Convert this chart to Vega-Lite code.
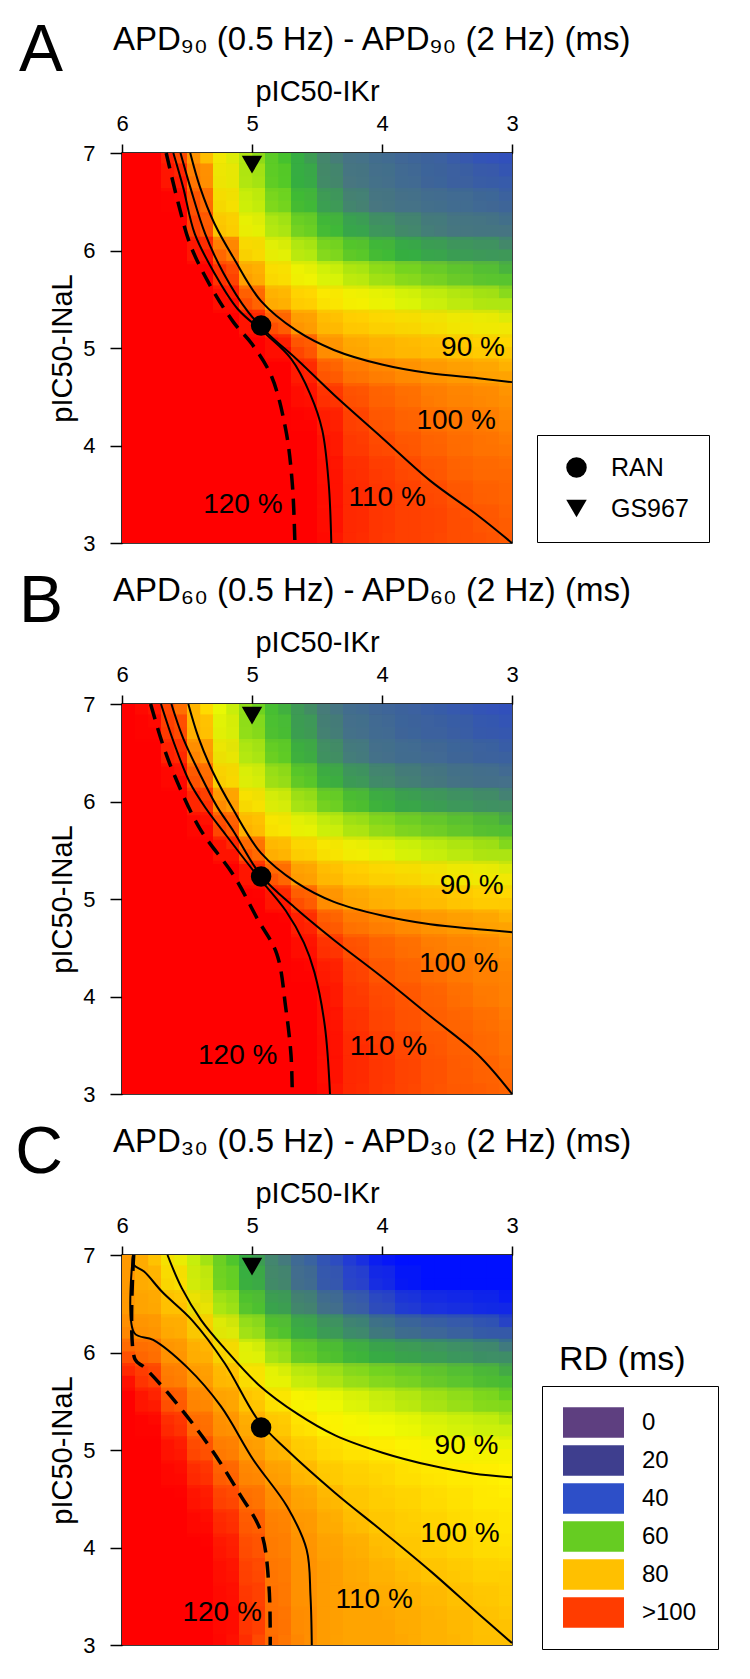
{
"$schema":"https://vega.github.io/schema/vega-lite/v6.json",
"background":"white",
"padding":{"left":15,"top":17,"right":0,"bottom":0},
"config":{
"font":"Liberation Sans",
"view":{"stroke":"black","strokeWidth":1.5},
"axis":{"grid":false,"labelFontSize":22,"titleFontSize":29,"titleFontWeight":"normal","labelColor":"black","titleColor":"black","domainColor":"black","tickColor":"black","domainWidth":1.5,"tickWidth":1.5,"zindex":1,"labelFont":"Liberation Sans","titleFont":"Liberation Sans"},
"title":{"font":"Liberation Sans","fontWeight":"normal","color":"black"},
"legend":{"labelFont":"Liberation Sans","titleFont":"Liberation Sans","labelColor":"black","titleColor":"black","titleFontWeight":"normal"}
},
"datasets":{
"hA":[
{"x":3.1,"y":6.875,"v":42},{"x":3.3,"y":6.875,"v":43},{"x":3.5,"y":6.875,"v":45},{"x":3.7,"y":6.875,"v":46},{"x":3.9,"y":6.875,"v":47},{"x":4.1,"y":6.875,"v":48},{"x":4.3,"y":6.875,"v":49},{"x":4.5,"y":6.875,"v":53},{"x":4.7,"y":6.875,"v":59},{"x":4.9,"y":6.875,"v":66},{"x":5.1,"y":6.875,"v":75},{"x":5.3,"y":6.875,"v":82},{"x":5.5,"y":6.875,"v":91},{"x":5.7,"y":6.875,"v":110},{"x":5.9,"y":6.875,"v":115},
{"x":3.1,"y":6.625,"v":45},{"x":3.3,"y":6.625,"v":46},{"x":3.5,"y":6.625,"v":46},{"x":3.7,"y":6.625,"v":47},{"x":3.9,"y":6.625,"v":48},{"x":4.1,"y":6.625,"v":49},{"x":4.3,"y":6.625,"v":50},{"x":4.5,"y":6.625,"v":55},{"x":4.7,"y":6.625,"v":60},{"x":4.9,"y":6.625,"v":68},{"x":5.1,"y":6.625,"v":76},{"x":5.3,"y":6.625,"v":83},{"x":5.5,"y":6.625,"v":98},{"x":5.7,"y":6.625,"v":110},{"x":5.9,"y":6.625,"v":115},
{"x":3.1,"y":6.375,"v":47},{"x":3.3,"y":6.375,"v":48},{"x":3.5,"y":6.375,"v":48},{"x":3.7,"y":6.375,"v":49},{"x":3.9,"y":6.375,"v":49},{"x":4.1,"y":6.375,"v":50},{"x":4.3,"y":6.375,"v":54},{"x":4.5,"y":6.375,"v":58},{"x":4.7,"y":6.375,"v":64},{"x":4.9,"y":6.375,"v":72},{"x":5.1,"y":6.375,"v":79},{"x":5.3,"y":6.375,"v":85},{"x":5.5,"y":6.375,"v":103},{"x":5.7,"y":6.375,"v":112},{"x":5.9,"y":6.375,"v":115},
{"x":3.1,"y":6.125,"v":50},{"x":3.3,"y":6.125,"v":50},{"x":3.5,"y":6.125,"v":50},{"x":3.7,"y":6.125,"v":52},{"x":3.9,"y":6.125,"v":55},{"x":4.1,"y":6.125,"v":57},{"x":4.3,"y":6.125,"v":59},{"x":4.5,"y":6.125,"v":64},{"x":4.7,"y":6.125,"v":71},{"x":4.9,"y":6.125,"v":77},{"x":5.1,"y":6.125,"v":82},{"x":5.3,"y":6.125,"v":87},{"x":5.5,"y":6.125,"v":108},{"x":5.7,"y":6.125,"v":112},{"x":5.9,"y":6.125,"v":115},
{"x":3.1,"y":5.875,"v":56},{"x":3.3,"y":5.875,"v":57},{"x":3.5,"y":5.875,"v":58},{"x":3.7,"y":5.875,"v":59},{"x":3.9,"y":5.875,"v":60},{"x":4.1,"y":5.875,"v":64},{"x":4.3,"y":5.875,"v":68},{"x":4.5,"y":5.875,"v":73},{"x":4.7,"y":5.875,"v":78},{"x":4.9,"y":5.875,"v":82},{"x":5.1,"y":5.875,"v":86},{"x":5.3,"y":5.875,"v":100},{"x":5.5,"y":5.875,"v":110},{"x":5.7,"y":5.875,"v":113},{"x":5.9,"y":5.875,"v":115},
{"x":3.1,"y":5.625,"v":65},{"x":3.3,"y":5.625,"v":67},{"x":3.5,"y":5.625,"v":69},{"x":3.7,"y":5.625,"v":71},{"x":3.9,"y":5.625,"v":74},{"x":4.1,"y":5.625,"v":76},{"x":4.3,"y":5.625,"v":78},{"x":4.5,"y":5.625,"v":80},{"x":4.7,"y":5.625,"v":82},{"x":4.9,"y":5.625,"v":85},{"x":5.1,"y":5.625,"v":91},{"x":5.3,"y":5.625,"v":108},{"x":5.5,"y":5.625,"v":112},{"x":5.7,"y":5.625,"v":114},{"x":5.9,"y":5.625,"v":115},
{"x":3.1,"y":5.375,"v":75},{"x":3.3,"y":5.375,"v":76},{"x":3.5,"y":5.375,"v":77},{"x":3.7,"y":5.375,"v":78},{"x":3.9,"y":5.375,"v":79},{"x":4.1,"y":5.375,"v":81},{"x":4.3,"y":5.375,"v":82},{"x":4.5,"y":5.375,"v":84},{"x":4.7,"y":5.375,"v":86},{"x":4.9,"y":5.375,"v":89},{"x":5.1,"y":5.375,"v":104},{"x":5.3,"y":5.375,"v":110},{"x":5.5,"y":5.375,"v":113},{"x":5.7,"y":5.375,"v":115},{"x":5.9,"y":5.375,"v":115},
{"x":3.1,"y":5.125,"v":82},{"x":3.3,"y":5.125,"v":82},{"x":3.5,"y":5.125,"v":83},{"x":3.7,"y":5.125,"v":84},{"x":3.9,"y":5.125,"v":85},{"x":4.1,"y":5.125,"v":85},{"x":4.3,"y":5.125,"v":86},{"x":4.5,"y":5.125,"v":87},{"x":4.7,"y":5.125,"v":91},{"x":4.9,"y":5.125,"v":101},{"x":5.1,"y":5.125,"v":109},{"x":5.3,"y":5.125,"v":112},{"x":5.5,"y":5.125,"v":114},{"x":5.7,"y":5.125,"v":115},{"x":5.9,"y":5.125,"v":115},
{"x":3.1,"y":4.875,"v":85},{"x":3.3,"y":4.875,"v":85},{"x":3.5,"y":4.875,"v":86},{"x":3.7,"y":4.875,"v":86},{"x":3.9,"y":4.875,"v":86},{"x":4.1,"y":4.875,"v":87},{"x":4.3,"y":4.875,"v":88},{"x":4.5,"y":4.875,"v":91},{"x":4.7,"y":4.875,"v":100},{"x":4.9,"y":4.875,"v":106},{"x":5.1,"y":4.875,"v":110},{"x":5.3,"y":4.875,"v":113},{"x":5.5,"y":4.875,"v":115},{"x":5.7,"y":4.875,"v":115},{"x":5.9,"y":4.875,"v":115},
{"x":3.1,"y":4.625,"v":88},{"x":3.3,"y":4.625,"v":89},{"x":3.5,"y":4.625,"v":89},{"x":3.7,"y":4.625,"v":90},{"x":3.9,"y":4.625,"v":91},{"x":4.1,"y":4.625,"v":92},{"x":4.3,"y":4.625,"v":93},{"x":4.5,"y":4.625,"v":96},{"x":4.7,"y":4.625,"v":103},{"x":4.9,"y":4.625,"v":108},{"x":5.1,"y":4.625,"v":111},{"x":5.3,"y":4.625,"v":114},{"x":5.5,"y":4.625,"v":115},{"x":5.7,"y":4.625,"v":115},{"x":5.9,"y":4.625,"v":115},
{"x":3.1,"y":4.375,"v":89},{"x":3.3,"y":4.375,"v":90},{"x":3.5,"y":4.375,"v":90},{"x":3.7,"y":4.375,"v":91},{"x":3.9,"y":4.375,"v":92},{"x":4.1,"y":4.375,"v":93},{"x":4.3,"y":4.375,"v":95},{"x":4.5,"y":4.375,"v":98},{"x":4.7,"y":4.375,"v":105},{"x":4.9,"y":4.375,"v":108},{"x":5.1,"y":4.375,"v":111},{"x":5.3,"y":4.375,"v":114},{"x":5.5,"y":4.375,"v":115},{"x":5.7,"y":4.375,"v":115},{"x":5.9,"y":4.375,"v":115},
{"x":3.1,"y":4.125,"v":90},{"x":3.3,"y":4.125,"v":91},{"x":3.5,"y":4.125,"v":91},{"x":3.7,"y":4.125,"v":92},{"x":3.9,"y":4.125,"v":93},{"x":4.1,"y":4.125,"v":94},{"x":4.3,"y":4.125,"v":96},{"x":4.5,"y":4.125,"v":101},{"x":4.7,"y":4.125,"v":106},{"x":4.9,"y":4.125,"v":109},{"x":5.1,"y":4.125,"v":111},{"x":5.3,"y":4.125,"v":113},{"x":5.5,"y":4.125,"v":114},{"x":5.7,"y":4.125,"v":115},{"x":5.9,"y":4.125,"v":115},
{"x":3.1,"y":3.875,"v":91},{"x":3.3,"y":3.875,"v":91},{"x":3.5,"y":3.875,"v":92},{"x":3.7,"y":3.875,"v":93},{"x":3.9,"y":3.875,"v":94},{"x":4.1,"y":3.875,"v":95},{"x":4.3,"y":3.875,"v":96},{"x":4.5,"y":3.875,"v":102},{"x":4.7,"y":3.875,"v":106},{"x":4.9,"y":3.875,"v":109},{"x":5.1,"y":3.875,"v":111},{"x":5.3,"y":3.875,"v":113},{"x":5.5,"y":3.875,"v":114},{"x":5.7,"y":3.875,"v":115},{"x":5.9,"y":3.875,"v":115},
{"x":3.1,"y":3.625,"v":92},{"x":3.3,"y":3.625,"v":92},{"x":3.5,"y":3.625,"v":93},{"x":3.7,"y":3.625,"v":94},{"x":3.9,"y":3.625,"v":95},{"x":4.1,"y":3.625,"v":96},{"x":4.3,"y":3.625,"v":97},{"x":4.5,"y":3.625,"v":102},{"x":4.7,"y":3.625,"v":107},{"x":4.9,"y":3.625,"v":110},{"x":5.1,"y":3.625,"v":111},{"x":5.3,"y":3.625,"v":113},{"x":5.5,"y":3.625,"v":114},{"x":5.7,"y":3.625,"v":115},{"x":5.9,"y":3.625,"v":115},
{"x":3.1,"y":3.375,"v":92},{"x":3.3,"y":3.375,"v":93},{"x":3.5,"y":3.375,"v":94},{"x":3.7,"y":3.375,"v":95},{"x":3.9,"y":3.375,"v":95},{"x":4.1,"y":3.375,"v":96},{"x":4.3,"y":3.375,"v":97},{"x":4.5,"y":3.375,"v":102},{"x":4.7,"y":3.375,"v":107},{"x":4.9,"y":3.375,"v":110},{"x":5.1,"y":3.375,"v":111},{"x":5.3,"y":3.375,"v":113},{"x":5.5,"y":3.375,"v":114},{"x":5.7,"y":3.375,"v":115},{"x":5.9,"y":3.375,"v":115},
{"x":3.1,"y":3.125,"v":93},{"x":3.3,"y":3.125,"v":94},{"x":3.5,"y":3.125,"v":94},{"x":3.7,"y":3.125,"v":95},{"x":3.9,"y":3.125,"v":95},{"x":4.1,"y":3.125,"v":96},{"x":4.3,"y":3.125,"v":97},{"x":4.5,"y":3.125,"v":103},{"x":4.7,"y":3.125,"v":108},{"x":4.9,"y":3.125,"v":110},{"x":5.1,"y":3.125,"v":111},{"x":5.3,"y":3.125,"v":113},{"x":5.5,"y":3.125,"v":114},{"x":5.7,"y":3.125,"v":115},{"x":5.9,"y":3.125,"v":115}
],
"hB":[
{"x":3.1,"y":6.875,"v":42},{"x":3.3,"y":6.875,"v":43},{"x":3.5,"y":6.875,"v":44},{"x":3.7,"y":6.875,"v":45},{"x":3.9,"y":6.875,"v":46},{"x":4.1,"y":6.875,"v":47},{"x":4.3,"y":6.875,"v":48},{"x":4.5,"y":6.875,"v":51},{"x":4.7,"y":6.875,"v":56},{"x":4.9,"y":6.875,"v":63},{"x":5.1,"y":6.875,"v":72},{"x":5.3,"y":6.875,"v":80},{"x":5.5,"y":6.875,"v":88},{"x":5.7,"y":6.875,"v":97},{"x":5.9,"y":6.875,"v":112},
{"x":3.1,"y":6.625,"v":44},{"x":3.3,"y":6.625,"v":45},{"x":3.5,"y":6.625,"v":46},{"x":3.7,"y":6.625,"v":46},{"x":3.9,"y":6.625,"v":47},{"x":4.1,"y":6.625,"v":48},{"x":4.3,"y":6.625,"v":49},{"x":4.5,"y":6.625,"v":53},{"x":4.7,"y":6.625,"v":58},{"x":4.9,"y":6.625,"v":65},{"x":5.1,"y":6.625,"v":73},{"x":5.3,"y":6.625,"v":81},{"x":5.5,"y":6.625,"v":90},{"x":5.7,"y":6.625,"v":100},{"x":5.9,"y":6.625,"v":112},
{"x":3.1,"y":6.375,"v":46},{"x":3.3,"y":6.375,"v":47},{"x":3.5,"y":6.375,"v":47},{"x":3.7,"y":6.375,"v":48},{"x":3.9,"y":6.375,"v":48},{"x":4.1,"y":6.375,"v":49},{"x":4.3,"y":6.375,"v":52},{"x":4.5,"y":6.375,"v":56},{"x":4.7,"y":6.375,"v":62},{"x":4.9,"y":6.375,"v":70},{"x":5.1,"y":6.375,"v":77},{"x":5.3,"y":6.375,"v":84},{"x":5.5,"y":6.375,"v":95},{"x":5.7,"y":6.375,"v":106},{"x":5.9,"y":6.375,"v":114},
{"x":3.1,"y":6.125,"v":49},{"x":3.3,"y":6.125,"v":49},{"x":3.5,"y":6.125,"v":50},{"x":3.7,"y":6.125,"v":51},{"x":3.9,"y":6.125,"v":53},{"x":4.1,"y":6.125,"v":55},{"x":4.3,"y":6.125,"v":58},{"x":4.5,"y":6.125,"v":62},{"x":4.7,"y":6.125,"v":69},{"x":4.9,"y":6.125,"v":75},{"x":5.1,"y":6.125,"v":81},{"x":5.3,"y":6.125,"v":86},{"x":5.5,"y":6.125,"v":100},{"x":5.7,"y":6.125,"v":110},{"x":5.9,"y":6.125,"v":115},
{"x":3.1,"y":5.875,"v":55},{"x":3.3,"y":5.875,"v":56},{"x":3.5,"y":5.875,"v":57},{"x":3.7,"y":5.875,"v":58},{"x":3.9,"y":5.875,"v":59},{"x":4.1,"y":5.875,"v":62},{"x":4.3,"y":5.875,"v":66},{"x":4.5,"y":5.875,"v":71},{"x":4.7,"y":5.875,"v":76},{"x":4.9,"y":5.875,"v":81},{"x":5.1,"y":5.875,"v":85},{"x":5.3,"y":5.875,"v":95},{"x":5.5,"y":5.875,"v":108},{"x":5.7,"y":5.875,"v":113},{"x":5.9,"y":5.875,"v":115},
{"x":3.1,"y":5.625,"v":64},{"x":3.3,"y":5.625,"v":66},{"x":3.5,"y":5.625,"v":68},{"x":3.7,"y":5.625,"v":70},{"x":3.9,"y":5.625,"v":72},{"x":4.1,"y":5.625,"v":75},{"x":4.3,"y":5.625,"v":77},{"x":4.5,"y":5.625,"v":79},{"x":4.7,"y":5.625,"v":81},{"x":4.9,"y":5.625,"v":84},{"x":5.1,"y":5.625,"v":89},{"x":5.3,"y":5.625,"v":104},{"x":5.5,"y":5.625,"v":111},{"x":5.7,"y":5.625,"v":114},{"x":5.9,"y":5.625,"v":115},
{"x":3.1,"y":5.375,"v":75},{"x":3.3,"y":5.375,"v":76},{"x":3.5,"y":5.375,"v":77},{"x":3.7,"y":5.375,"v":78},{"x":3.9,"y":5.375,"v":79},{"x":4.1,"y":5.375,"v":81},{"x":4.3,"y":5.375,"v":82},{"x":4.5,"y":5.375,"v":84},{"x":4.7,"y":5.375,"v":86},{"x":4.9,"y":5.375,"v":89},{"x":5.1,"y":5.375,"v":100},{"x":5.3,"y":5.375,"v":110},{"x":5.5,"y":5.375,"v":113},{"x":5.7,"y":5.375,"v":115},{"x":5.9,"y":5.375,"v":115},
{"x":3.1,"y":5.125,"v":82},{"x":3.3,"y":5.125,"v":82},{"x":3.5,"y":5.125,"v":83},{"x":3.7,"y":5.125,"v":84},{"x":3.9,"y":5.125,"v":85},{"x":4.1,"y":5.125,"v":85},{"x":4.3,"y":5.125,"v":86},{"x":4.5,"y":5.125,"v":87},{"x":4.7,"y":5.125,"v":90},{"x":4.9,"y":5.125,"v":99},{"x":5.1,"y":5.125,"v":108},{"x":5.3,"y":5.125,"v":112},{"x":5.5,"y":5.125,"v":114},{"x":5.7,"y":5.125,"v":115},{"x":5.9,"y":5.125,"v":115},
{"x":3.1,"y":4.875,"v":85},{"x":3.3,"y":4.875,"v":85},{"x":3.5,"y":4.875,"v":86},{"x":3.7,"y":4.875,"v":86},{"x":3.9,"y":4.875,"v":86},{"x":4.1,"y":4.875,"v":87},{"x":4.3,"y":4.875,"v":88},{"x":4.5,"y":4.875,"v":91},{"x":4.7,"y":4.875,"v":99},{"x":4.9,"y":4.875,"v":106},{"x":5.1,"y":4.875,"v":110},{"x":5.3,"y":4.875,"v":113},{"x":5.5,"y":4.875,"v":115},{"x":5.7,"y":4.875,"v":115},{"x":5.9,"y":4.875,"v":115},
{"x":3.1,"y":4.625,"v":88},{"x":3.3,"y":4.625,"v":89},{"x":3.5,"y":4.625,"v":89},{"x":3.7,"y":4.625,"v":90},{"x":3.9,"y":4.625,"v":91},{"x":4.1,"y":4.625,"v":92},{"x":4.3,"y":4.625,"v":93},{"x":4.5,"y":4.625,"v":96},{"x":4.7,"y":4.625,"v":102},{"x":4.9,"y":4.625,"v":108},{"x":5.1,"y":4.625,"v":111},{"x":5.3,"y":4.625,"v":114},{"x":5.5,"y":4.625,"v":115},{"x":5.7,"y":4.625,"v":115},{"x":5.9,"y":4.625,"v":115},
{"x":3.1,"y":4.375,"v":89},{"x":3.3,"y":4.375,"v":90},{"x":3.5,"y":4.375,"v":90},{"x":3.7,"y":4.375,"v":91},{"x":3.9,"y":4.375,"v":92},{"x":4.1,"y":4.375,"v":93},{"x":4.3,"y":4.375,"v":95},{"x":4.5,"y":4.375,"v":98},{"x":4.7,"y":4.375,"v":104},{"x":4.9,"y":4.375,"v":108},{"x":5.1,"y":4.375,"v":111},{"x":5.3,"y":4.375,"v":114},{"x":5.5,"y":4.375,"v":115},{"x":5.7,"y":4.375,"v":115},{"x":5.9,"y":4.375,"v":115},
{"x":3.1,"y":4.125,"v":90},{"x":3.3,"y":4.125,"v":90},{"x":3.5,"y":4.125,"v":91},{"x":3.7,"y":4.125,"v":92},{"x":3.9,"y":4.125,"v":93},{"x":4.1,"y":4.125,"v":94},{"x":4.3,"y":4.125,"v":96},{"x":4.5,"y":4.125,"v":101},{"x":4.7,"y":4.125,"v":106},{"x":4.9,"y":4.125,"v":109},{"x":5.1,"y":4.125,"v":111},{"x":5.3,"y":4.125,"v":113},{"x":5.5,"y":4.125,"v":114},{"x":5.7,"y":4.125,"v":115},{"x":5.9,"y":4.125,"v":115},
{"x":3.1,"y":3.875,"v":90},{"x":3.3,"y":3.875,"v":91},{"x":3.5,"y":3.875,"v":92},{"x":3.7,"y":3.875,"v":93},{"x":3.9,"y":3.875,"v":94},{"x":4.1,"y":3.875,"v":95},{"x":4.3,"y":3.875,"v":96},{"x":4.5,"y":3.875,"v":102},{"x":4.7,"y":3.875,"v":106},{"x":4.9,"y":3.875,"v":109},{"x":5.1,"y":3.875,"v":111},{"x":5.3,"y":3.875,"v":113},{"x":5.5,"y":3.875,"v":114},{"x":5.7,"y":3.875,"v":115},{"x":5.9,"y":3.875,"v":115},
{"x":3.1,"y":3.625,"v":91},{"x":3.3,"y":3.625,"v":92},{"x":3.5,"y":3.625,"v":92},{"x":3.7,"y":3.625,"v":93},{"x":3.9,"y":3.625,"v":94},{"x":4.1,"y":3.625,"v":95},{"x":4.3,"y":3.625,"v":97},{"x":4.5,"y":3.625,"v":102},{"x":4.7,"y":3.625,"v":107},{"x":4.9,"y":3.625,"v":110},{"x":5.1,"y":3.625,"v":111},{"x":5.3,"y":3.625,"v":113},{"x":5.5,"y":3.625,"v":114},{"x":5.7,"y":3.625,"v":115},{"x":5.9,"y":3.625,"v":115},
{"x":3.1,"y":3.375,"v":91},{"x":3.3,"y":3.375,"v":92},{"x":3.5,"y":3.375,"v":93},{"x":3.7,"y":3.375,"v":94},{"x":3.9,"y":3.375,"v":95},{"x":4.1,"y":3.375,"v":96},{"x":4.3,"y":3.375,"v":97},{"x":4.5,"y":3.375,"v":102},{"x":4.7,"y":3.375,"v":107},{"x":4.9,"y":3.375,"v":110},{"x":5.1,"y":3.375,"v":111},{"x":5.3,"y":3.375,"v":113},{"x":5.5,"y":3.375,"v":114},{"x":5.7,"y":3.375,"v":115},{"x":5.9,"y":3.375,"v":115},
{"x":3.1,"y":3.125,"v":92},{"x":3.3,"y":3.125,"v":93},{"x":3.5,"y":3.125,"v":93},{"x":3.7,"y":3.125,"v":94},{"x":3.9,"y":3.125,"v":95},{"x":4.1,"y":3.125,"v":96},{"x":4.3,"y":3.125,"v":97},{"x":4.5,"y":3.125,"v":103},{"x":4.7,"y":3.125,"v":108},{"x":4.9,"y":3.125,"v":110},{"x":5.1,"y":3.125,"v":111},{"x":5.3,"y":3.125,"v":113},{"x":5.5,"y":3.125,"v":114},{"x":5.7,"y":3.125,"v":115},{"x":5.9,"y":3.125,"v":115}
],
"hC":[
{"x":3.1,"y":6.875,"v":30},{"x":3.3,"y":6.875,"v":30},{"x":3.5,"y":6.875,"v":30},{"x":3.7,"y":6.875,"v":30},{"x":3.9,"y":6.875,"v":30},{"x":4.1,"y":6.875,"v":34},{"x":4.3,"y":6.875,"v":40},{"x":4.5,"y":6.875,"v":44},{"x":4.7,"y":6.875,"v":48},{"x":4.9,"y":6.875,"v":53},{"x":5.1,"y":6.875,"v":59},{"x":5.3,"y":6.875,"v":68},{"x":5.5,"y":6.875,"v":77},{"x":5.7,"y":6.875,"v":83},{"x":5.9,"y":6.875,"v":88},
{"x":3.1,"y":6.625,"v":30},{"x":3.3,"y":6.625,"v":30},{"x":3.5,"y":6.625,"v":30},{"x":3.7,"y":6.625,"v":30},{"x":3.9,"y":6.625,"v":34},{"x":4.1,"y":6.625,"v":39},{"x":4.3,"y":6.625,"v":43},{"x":4.5,"y":6.625,"v":46},{"x":4.7,"y":6.625,"v":50},{"x":4.9,"y":6.625,"v":55},{"x":5.1,"y":6.625,"v":61},{"x":5.3,"y":6.625,"v":71},{"x":5.5,"y":6.625,"v":81},{"x":5.7,"y":6.625,"v":85},{"x":5.9,"y":6.625,"v":88},
{"x":3.1,"y":6.375,"v":36},{"x":3.3,"y":6.375,"v":38},{"x":3.5,"y":6.375,"v":39},{"x":3.7,"y":6.375,"v":40},{"x":3.9,"y":6.375,"v":42},{"x":4.1,"y":6.375,"v":45},{"x":4.3,"y":6.375,"v":48},{"x":4.5,"y":6.375,"v":51},{"x":4.7,"y":6.375,"v":55},{"x":4.9,"y":6.375,"v":59},{"x":5.1,"y":6.375,"v":68},{"x":5.3,"y":6.375,"v":78},{"x":5.5,"y":6.375,"v":85},{"x":5.7,"y":6.375,"v":86},{"x":5.9,"y":6.375,"v":88},
{"x":3.1,"y":6.125,"v":47},{"x":3.3,"y":6.125,"v":48},{"x":3.5,"y":6.125,"v":49},{"x":3.7,"y":6.125,"v":50},{"x":3.9,"y":6.125,"v":51},{"x":4.1,"y":6.125,"v":53},{"x":4.3,"y":6.125,"v":56},{"x":4.5,"y":6.125,"v":58},{"x":4.7,"y":6.125,"v":61},{"x":4.9,"y":6.125,"v":69},{"x":5.1,"y":6.125,"v":77},{"x":5.3,"y":6.125,"v":83},{"x":5.5,"y":6.125,"v":86},{"x":5.7,"y":6.125,"v":88},{"x":5.9,"y":6.125,"v":90},
{"x":3.1,"y":5.875,"v":55},{"x":3.3,"y":5.875,"v":56},{"x":3.5,"y":5.875,"v":57},{"x":3.7,"y":5.875,"v":58},{"x":3.9,"y":5.875,"v":59},{"x":4.1,"y":5.875,"v":60},{"x":4.3,"y":5.875,"v":63},{"x":4.5,"y":5.875,"v":66},{"x":4.7,"y":5.875,"v":69},{"x":4.9,"y":5.875,"v":78},{"x":5.1,"y":5.875,"v":81},{"x":5.3,"y":5.875,"v":86},{"x":5.5,"y":5.875,"v":88},{"x":5.7,"y":5.875,"v":90},{"x":5.9,"y":5.875,"v":95},
{"x":3.1,"y":5.625,"v":63},{"x":3.3,"y":5.625,"v":65},{"x":3.5,"y":5.625,"v":67},{"x":3.7,"y":5.625,"v":69},{"x":3.9,"y":5.625,"v":71},{"x":4.1,"y":5.625,"v":73},{"x":4.3,"y":5.625,"v":75},{"x":4.5,"y":5.625,"v":77},{"x":4.7,"y":5.625,"v":79},{"x":4.9,"y":5.625,"v":81},{"x":5.1,"y":5.625,"v":85},{"x":5.3,"y":5.625,"v":87},{"x":5.5,"y":5.625,"v":89},{"x":5.7,"y":5.625,"v":92},{"x":5.9,"y":5.625,"v":100},
{"x":3.1,"y":5.375,"v":70},{"x":3.3,"y":5.375,"v":71},{"x":3.5,"y":5.375,"v":73},{"x":3.7,"y":5.375,"v":74},{"x":3.9,"y":5.375,"v":76},{"x":4.1,"y":5.375,"v":77},{"x":4.3,"y":5.375,"v":79},{"x":4.5,"y":5.375,"v":80},{"x":4.7,"y":5.375,"v":82},{"x":4.9,"y":5.375,"v":84},{"x":5.1,"y":5.375,"v":86},{"x":5.3,"y":5.375,"v":89},{"x":5.5,"y":5.375,"v":91},{"x":5.7,"y":5.375,"v":97},{"x":5.9,"y":5.375,"v":102},
{"x":3.1,"y":5.125,"v":77},{"x":3.3,"y":5.125,"v":78},{"x":3.5,"y":5.125,"v":78},{"x":3.7,"y":5.125,"v":79},{"x":3.9,"y":5.125,"v":80},{"x":4.1,"y":5.125,"v":80},{"x":4.3,"y":5.125,"v":81},{"x":4.5,"y":5.125,"v":82},{"x":4.7,"y":5.125,"v":84},{"x":4.9,"y":5.125,"v":86},{"x":5.1,"y":5.125,"v":88},{"x":5.3,"y":5.125,"v":90},{"x":5.5,"y":5.125,"v":94},{"x":5.7,"y":5.125,"v":100},{"x":5.9,"y":5.125,"v":105},
{"x":3.1,"y":4.875,"v":81},{"x":3.3,"y":4.875,"v":81},{"x":3.5,"y":4.875,"v":81},{"x":3.7,"y":4.875,"v":81},{"x":3.9,"y":4.875,"v":82},{"x":4.1,"y":4.875,"v":83},{"x":4.3,"y":4.875,"v":83},{"x":4.5,"y":4.875,"v":84},{"x":4.7,"y":4.875,"v":85},{"x":4.9,"y":4.875,"v":87},{"x":5.1,"y":4.875,"v":89},{"x":5.3,"y":4.875,"v":92},{"x":5.5,"y":4.875,"v":97},{"x":5.7,"y":4.875,"v":102},{"x":5.9,"y":4.875,"v":106},
{"x":3.1,"y":4.625,"v":81},{"x":3.3,"y":4.625,"v":82},{"x":3.5,"y":4.625,"v":82},{"x":3.7,"y":4.625,"v":83},{"x":3.9,"y":4.625,"v":83},{"x":4.1,"y":4.625,"v":84},{"x":4.3,"y":4.625,"v":84},{"x":4.5,"y":4.625,"v":85},{"x":4.7,"y":4.625,"v":87},{"x":4.9,"y":4.625,"v":89},{"x":5.1,"y":4.625,"v":91},{"x":5.3,"y":4.625,"v":95},{"x":5.5,"y":4.625,"v":99},{"x":5.7,"y":4.625,"v":103},{"x":5.9,"y":4.625,"v":107},
{"x":3.1,"y":4.375,"v":82},{"x":3.3,"y":4.375,"v":82},{"x":3.5,"y":4.375,"v":83},{"x":3.7,"y":4.375,"v":83},{"x":3.9,"y":4.375,"v":84},{"x":4.1,"y":4.375,"v":84},{"x":4.3,"y":4.375,"v":85},{"x":4.5,"y":4.375,"v":87},{"x":4.7,"y":4.375,"v":88},{"x":4.9,"y":4.375,"v":90},{"x":5.1,"y":4.375,"v":93},{"x":5.3,"y":4.375,"v":97},{"x":5.5,"y":4.375,"v":101},{"x":5.7,"y":4.375,"v":104},{"x":5.9,"y":4.375,"v":108},
{"x":3.1,"y":4.125,"v":82},{"x":3.3,"y":4.125,"v":83},{"x":3.5,"y":4.125,"v":83},{"x":3.7,"y":4.125,"v":84},{"x":3.9,"y":4.125,"v":84},{"x":4.1,"y":4.125,"v":85},{"x":4.3,"y":4.125,"v":86},{"x":4.5,"y":4.125,"v":87},{"x":4.7,"y":4.125,"v":89},{"x":4.9,"y":4.125,"v":91},{"x":5.1,"y":4.125,"v":95},{"x":5.3,"y":4.125,"v":99},{"x":5.5,"y":4.125,"v":103},{"x":5.7,"y":4.125,"v":106},{"x":5.9,"y":4.125,"v":110},
{"x":3.1,"y":3.875,"v":83},{"x":3.3,"y":3.875,"v":83},{"x":3.5,"y":3.875,"v":84},{"x":3.7,"y":3.875,"v":84},{"x":3.9,"y":3.875,"v":85},{"x":4.1,"y":3.875,"v":86},{"x":4.3,"y":3.875,"v":87},{"x":4.5,"y":3.875,"v":88},{"x":4.7,"y":3.875,"v":89},{"x":4.9,"y":3.875,"v":91},{"x":5.1,"y":3.875,"v":96},{"x":5.3,"y":3.875,"v":100},{"x":5.5,"y":3.875,"v":104},{"x":5.7,"y":3.875,"v":107},{"x":5.9,"y":3.875,"v":110},
{"x":3.1,"y":3.625,"v":84},{"x":3.3,"y":3.625,"v":84},{"x":3.5,"y":3.625,"v":85},{"x":3.7,"y":3.625,"v":85},{"x":3.9,"y":3.625,"v":86},{"x":4.1,"y":3.625,"v":86},{"x":4.3,"y":3.625,"v":87},{"x":4.5,"y":3.625,"v":88},{"x":4.7,"y":3.625,"v":89},{"x":4.9,"y":3.625,"v":92},{"x":5.1,"y":3.625,"v":97},{"x":5.3,"y":3.625,"v":101},{"x":5.5,"y":3.625,"v":105},{"x":5.7,"y":3.625,"v":108},{"x":5.9,"y":3.625,"v":110},
{"x":3.1,"y":3.375,"v":84},{"x":3.3,"y":3.375,"v":85},{"x":3.5,"y":3.375,"v":85},{"x":3.7,"y":3.375,"v":86},{"x":3.9,"y":3.375,"v":86},{"x":4.1,"y":3.375,"v":87},{"x":4.3,"y":3.375,"v":87},{"x":4.5,"y":3.375,"v":88},{"x":4.7,"y":3.375,"v":89},{"x":4.9,"y":3.375,"v":92},{"x":5.1,"y":3.375,"v":98},{"x":5.3,"y":3.375,"v":102},{"x":5.5,"y":3.375,"v":105},{"x":5.7,"y":3.375,"v":108},{"x":5.9,"y":3.375,"v":110},
{"x":3.1,"y":3.125,"v":85},{"x":3.3,"y":3.125,"v":85},{"x":3.5,"y":3.125,"v":86},{"x":3.7,"y":3.125,"v":86},{"x":3.9,"y":3.125,"v":87},{"x":4.1,"y":3.125,"v":87},{"x":4.3,"y":3.125,"v":87},{"x":4.5,"y":3.125,"v":88},{"x":4.7,"y":3.125,"v":90},{"x":4.9,"y":3.125,"v":92},{"x":5.1,"y":3.125,"v":98},{"x":5.3,"y":3.125,"v":103},{"x":5.5,"y":3.125,"v":106},{"x":5.7,"y":3.125,"v":108},{"x":5.9,"y":3.125,"v":110}
],
"lA":[
{"c":"90","i":0,"x":5.475,"y":7},{"c":"90","i":1,"x":5.4,"y":6.65},{"c":"90","i":2,"x":5.29,"y":6.28},{"c":"90","i":3,"x":5.14,"y":5.92},{"c":"90","i":4,"x":4.93,"y":5.48},{"c":"90","i":5,"x":4.66,"y":5.18},{"c":"90","i":6,"x":4.37,"y":4.98},{"c":"90","i":7,"x":4.0,"y":4.83},{"c":"90","i":8,"x":3.63,"y":4.74},{"c":"90","i":9,"x":3.26,"y":4.69},{"c":"90","i":10,"x":3.0,"y":4.65},
{"c":"100","i":0,"x":5.55,"y":7},{"c":"100","i":1,"x":5.475,"y":6.65},{"c":"100","i":2,"x":5.36,"y":6.17},{"c":"100","i":3,"x":5.22,"y":5.77},{"c":"100","i":4,"x":5.03,"y":5.37},{"c":"100","i":5,"x":4.88,"y":5.15},{"c":"100","i":6,"x":4.66,"y":4.89},{"c":"100","i":7,"x":4.37,"y":4.52},{"c":"100","i":8,"x":4.0,"y":4.08},{"c":"100","i":9,"x":3.63,"y":3.64},{"c":"100","i":10,"x":3.26,"y":3.28},{"c":"100","i":11,"x":3.0,"y":3.0},
{"c":"110","i":0,"x":5.605,"y":7},{"c":"110","i":1,"x":5.53,"y":6.65},{"c":"110","i":2,"x":5.44,"y":6.17},{"c":"110","i":3,"x":5.29,"y":5.77},{"c":"110","i":4,"x":5.11,"y":5.4},{"c":"110","i":5,"x":4.9,"y":5.15},{"c":"110","i":6,"x":4.7,"y":4.89},{"c":"110","i":7,"x":4.55,"y":4.52},{"c":"110","i":8,"x":4.46,"y":4.16},{"c":"110","i":9,"x":4.41,"y":3.61},{"c":"110","i":10,"x":4.39,"y":3.0},
{"c":"120","i":0,"x":5.66,"y":7},{"c":"120","i":1,"x":5.57,"y":6.5},{"c":"120","i":2,"x":5.475,"y":6.06},{"c":"120","i":3,"x":5.33,"y":5.66},{"c":"120","i":4,"x":5.14,"y":5.26},{"c":"120","i":5,"x":5.0,"y":5.04},{"c":"120","i":6,"x":4.85,"y":4.71},{"c":"120","i":7,"x":4.74,"y":4.16},{"c":"120","i":8,"x":4.69,"y":3.61},{"c":"120","i":9,"x":4.67,"y":3.0}
],
"lB":[
{"c":"90","i":0,"x":5.49,"y":7},{"c":"90","i":1,"x":5.41,"y":6.65},{"c":"90","i":2,"x":5.3,"y":6.3},{"c":"90","i":3,"x":5.15,"y":5.93},{"c":"90","i":4,"x":4.93,"y":5.47},{"c":"90","i":5,"x":4.66,"y":5.17},{"c":"90","i":6,"x":4.37,"y":4.97},{"c":"90","i":7,"x":4.0,"y":4.83},{"c":"90","i":8,"x":3.63,"y":4.74},{"c":"90","i":9,"x":3.26,"y":4.69},{"c":"90","i":10,"x":3.0,"y":4.66},
{"c":"100","i":0,"x":5.62,"y":7},{"c":"100","i":1,"x":5.53,"y":6.65},{"c":"100","i":2,"x":5.4,"y":6.28},{"c":"100","i":3,"x":5.27,"y":5.95},{"c":"100","i":4,"x":5.14,"y":5.69},{"c":"100","i":5,"x":4.93,"y":5.24},{"c":"100","i":6,"x":4.66,"y":4.9},{"c":"100","i":7,"x":4.37,"y":4.58},{"c":"100","i":8,"x":4.0,"y":4.2},{"c":"100","i":9,"x":3.63,"y":3.8},{"c":"100","i":10,"x":3.26,"y":3.4},{"c":"100","i":11,"x":3.0,"y":3.0},
{"c":"110","i":0,"x":5.7,"y":7},{"c":"110","i":1,"x":5.6,"y":6.6},{"c":"110","i":2,"x":5.48,"y":6.2},{"c":"110","i":3,"x":5.35,"y":5.92},{"c":"110","i":4,"x":5.22,"y":5.69},{"c":"110","i":5,"x":4.96,"y":5.24},{"c":"110","i":6,"x":4.74,"y":4.88},{"c":"110","i":7,"x":4.6,"y":4.55},{"c":"110","i":8,"x":4.52,"y":4.25},{"c":"110","i":9,"x":4.44,"y":3.7},{"c":"110","i":10,"x":4.4,"y":3.0},
{"c":"120","i":0,"x":5.78,"y":7},{"c":"120","i":1,"x":5.69,"y":6.6},{"c":"120","i":2,"x":5.6,"y":6.28},{"c":"120","i":3,"x":5.4,"y":5.72},{"c":"120","i":4,"x":5.14,"y":5.24},{"c":"120","i":5,"x":4.96,"y":4.8},{"c":"120","i":6,"x":4.81,"y":4.44},{"c":"120","i":7,"x":4.74,"y":3.88},{"c":"120","i":8,"x":4.7,"y":3.4},{"c":"120","i":9,"x":4.69,"y":3.0}
],
"lC":[
{"c":"90","i":0,"x":5.65,"y":7},{"c":"90","i":1,"x":5.54,"y":6.66},{"c":"90","i":2,"x":5.39,"y":6.33},{"c":"90","i":3,"x":5.21,"y":6.04},{"c":"90","i":4,"x":4.95,"y":5.67},{"c":"90","i":5,"x":4.65,"y":5.37},{"c":"90","i":6,"x":4.36,"y":5.15},{"c":"90","i":7,"x":3.99,"y":4.97},{"c":"90","i":8,"x":3.62,"y":4.84},{"c":"90","i":9,"x":3.3,"y":4.76},{"c":"90","i":10,"x":3.0,"y":4.72},
{"c":"100","i":0,"x":5.915,"y":7},{"c":"100","i":1,"x":5.91,"y":6.9},{"c":"100","i":2,"x":5.83,"y":6.83},{"c":"100","i":3,"x":5.69,"y":6.62},{"c":"100","i":4,"x":5.46,"y":6.33},{"c":"100","i":5,"x":5.21,"y":5.89},{"c":"100","i":6,"x":4.95,"y":5.3},{"c":"100","i":7,"x":4.73,"y":5.0},{"c":"100","i":8,"x":4.36,"y":4.56},{"c":"100","i":9,"x":3.99,"y":4.16},{"c":"100","i":10,"x":3.62,"y":3.75},{"c":"100","i":11,"x":3.25,"y":3.31},{"c":"100","i":12,"x":3.0,"y":3.02},
{"c":"110","i":0,"x":5.915,"y":7},{"c":"110","i":1,"x":5.905,"y":6.2},{"c":"110","i":2,"x":5.76,"y":6.13},{"c":"110","i":3,"x":5.5,"y":5.85},{"c":"110","i":4,"x":5.24,"y":5.45},{"c":"110","i":5,"x":4.99,"y":4.9},{"c":"110","i":6,"x":4.73,"y":4.42},{"c":"110","i":7,"x":4.58,"y":3.98},{"c":"110","i":8,"x":4.55,"y":3.5},{"c":"110","i":9,"x":4.54,"y":3.0},
{"c":"120","i":0,"x":5.91,"y":7},{"c":"120","i":1,"x":5.9,"y":5.93},{"c":"120","i":2,"x":5.83,"y":5.85},{"c":"120","i":3,"x":5.65,"y":5.59},{"c":"120","i":4,"x":5.35,"y":5.08},{"c":"120","i":5,"x":5.1,"y":4.56},{"c":"120","i":6,"x":4.93,"y":4.16},{"c":"120","i":7,"x":4.87,"y":3.61},{"c":"120","i":8,"x":4.86,"y":3.0}
],
"tA":[{"t":"90 %","x":3.3,"y":5.0},{"t":"100 %","x":3.43,"y":4.25},{"t":"110 %","x":3.96,"y":3.46},{"t":"120 %","x":5.07,"y":3.39}],
"tB":[{"t":"90 %","x":3.31,"y":5.13},{"t":"100 %","x":3.41,"y":4.33},{"t":"110 %","x":3.95,"y":3.48},{"t":"120 %","x":5.11,"y":3.39}],
"tC":[{"t":"90 %","x":3.35,"y":5.04},{"t":"100 %","x":3.4,"y":4.14},{"t":"110 %","x":4.06,"y":3.46},{"t":"120 %","x":5.23,"y":3.33}],
"mk":[{"m":"RAN","x":4.93,"y":5.23},{"m":"GS967","x":5.0,"y":6.88}],
"rd":[{"rd":"0"},{"rd":"20"},{"rd":"40"},{"rd":"60"},{"rd":"80"},{"rd":">100"}]
},
"spacing":13,
"resolve":{"scale":{"color":"independent","fill":"independent","shape":"independent"}},
"vconcat":[
{
"title":{"text":"A","orient":"left","anchor":"end","angle":0,"align":"left","baseline":"top","fontSize":66,"offset":-15,"dy":-4,"frame":"bounds"},
"resolve":{"scale":{"color":"independent","fill":"independent","shape":"independent"}},
"vconcat":[{
"width":390,"height":390,
"title":{"text":"APD₉₀ (0.5 Hz) - APD₉₀ (2 Hz) (ms)","anchor":"start","frame":"group","dx":-9,"offset":20.5,"fontSize":33},
"encoding":{
"x":{"field":"x","type":"quantitative","scale":{"domain":[3,6],"reverse":true,"nice":false,"zero":false},"axis":{"orient":"top","values":[3,4,5,6],"format":"d","title":"pIC50-IKr","tickSize":9,"labelPadding":8.5,"titlePadding":6.5,"labelFlush":false}},
"y":{"field":"y","type":"quantitative","scale":{"domain":[3,7],"nice":false,"zero":false},"axis":{"values":[3,4,5,6,7],"format":"d","title":"pIC50-INaL","tickSize":12,"labelPadding":15,"titlePadding":5}}
},
"layer":[
{"data":{"name":"hA"},"mark":{"type":"square","size":702,"opacity":1,"clip":true,"strokeWidth":0},"encoding":{"color":{"field":"v","type":"quantitative","scale":{"domain":[30,40,50,60,80,100],"range":["#0010FF","#2B46CC","#4B7A7C","#30C030","#FFFF00","#FF0000"],"interpolate":"rgb","clamp":true},"legend":null}}},
{"data":{"name":"hA"},"mark":{"type":"square","size":2704,"opacity":0.22,"clip":true,"strokeWidth":0},"encoding":{"color":{"field":"v","type":"quantitative","legend":null}}},
{"data":{"name":"hA"},"mark":{"type":"square","size":2704,"opacity":0.22,"clip":true,"strokeWidth":0},"encoding":{"color":{"field":"v","type":"quantitative","legend":null},"order":[{"field":"y","type":"quantitative","sort":"ascending"},{"field":"x","type":"quantitative","sort":"descending"}]}},
{"data":{"name":"lA"},"transform":[{"filter":"datum.c != '120'"}],"mark":{"type":"line","color":"black","strokeWidth":2,"interpolate":"catmull-rom"},"encoding":{"detail":{"field":"c","type":"nominal"},"order":{"field":"i","type":"quantitative"}}},
{"data":{"name":"lA"},"transform":[{"filter":"datum.c == '120'"}],"mark":{"type":"line","color":"black","strokeWidth":3.5,"strokeDash":[16,9],"interpolate":"catmull-rom"},"encoding":{"order":{"field":"i","type":"quantitative"}}},
{"data":{"name":"tA"},"mark":{"type":"text","fontSize":28,"color":"black","align":"center","baseline":"middle"},"encoding":{"text":{"field":"t","type":"nominal"}}},
{"data":{"name":"mk"},"mark":{"type":"point","filled":true,"color":"black","size":420,"opacity":1},"encoding":{"shape":{"field":"m","type":"nominal","scale":{"domain":["RAN","GS967"],"range":["circle","triangle-down"]},"legend":{"title":null,"orient":"none","legendX":415,"legendY":282,"strokeColor":"black","fillColor":"white","padding":20,"symbolSize":420,"symbolOffset":7,"symbolFillColor":"black","symbolStrokeWidth":0,"labelFontSize":25,"labelOffset":22,"rowPadding":15}}}}
]
}]
},
{
"title":{"text":"B","orient":"left","anchor":"end","angle":0,"align":"left","baseline":"top","fontSize":66,"offset":-15,"dy":-4,"frame":"bounds"},
"resolve":{"scale":{"color":"independent","fill":"independent","shape":"independent"}},
"vconcat":[{
"width":390,"height":390,
"title":{"text":"APD₆₀ (0.5 Hz) - APD₆₀ (2 Hz) (ms)","anchor":"start","frame":"group","dx":-9,"offset":20.5,"fontSize":33},
"encoding":{
"x":{"field":"x","type":"quantitative","scale":{"domain":[3,6],"reverse":true,"nice":false,"zero":false},"axis":{"orient":"top","values":[3,4,5,6],"format":"d","title":"pIC50-IKr","tickSize":9,"labelPadding":8.5,"titlePadding":6.5,"labelFlush":false}},
"y":{"field":"y","type":"quantitative","scale":{"domain":[3,7],"nice":false,"zero":false},"axis":{"values":[3,4,5,6,7],"format":"d","title":"pIC50-INaL","tickSize":12,"labelPadding":15,"titlePadding":5}}
},
"layer":[
{"data":{"name":"hB"},"mark":{"type":"square","size":702,"opacity":1,"clip":true,"strokeWidth":0},"encoding":{"color":{"field":"v","type":"quantitative","scale":{"domain":[30,40,50,60,80,100],"range":["#0010FF","#2B46CC","#4B7A7C","#30C030","#FFFF00","#FF0000"],"interpolate":"rgb","clamp":true},"legend":null}}},
{"data":{"name":"hB"},"mark":{"type":"square","size":2704,"opacity":0.22,"clip":true,"strokeWidth":0},"encoding":{"color":{"field":"v","type":"quantitative","legend":null}}},
{"data":{"name":"hB"},"mark":{"type":"square","size":2704,"opacity":0.22,"clip":true,"strokeWidth":0},"encoding":{"color":{"field":"v","type":"quantitative","legend":null},"order":[{"field":"y","type":"quantitative","sort":"ascending"},{"field":"x","type":"quantitative","sort":"descending"}]}},
{"data":{"name":"lB"},"transform":[{"filter":"datum.c != '120'"}],"mark":{"type":"line","color":"black","strokeWidth":2,"interpolate":"catmull-rom"},"encoding":{"detail":{"field":"c","type":"nominal"},"order":{"field":"i","type":"quantitative"}}},
{"data":{"name":"lB"},"transform":[{"filter":"datum.c == '120'"}],"mark":{"type":"line","color":"black","strokeWidth":3.5,"strokeDash":[16,9],"interpolate":"catmull-rom"},"encoding":{"order":{"field":"i","type":"quantitative"}}},
{"data":{"name":"tB"},"mark":{"type":"text","fontSize":28,"color":"black","align":"center","baseline":"middle"},"encoding":{"text":{"field":"t","type":"nominal"}}},
{"data":{"name":"mk"},"mark":{"type":"point","filled":true,"color":"black","size":420,"opacity":1},"encoding":{"shape":{"field":"m","type":"nominal","scale":{"domain":["RAN","GS967"],"range":["circle","triangle-down"]},"legend":null}}}
]
}]
},
{
"title":{"text":"C","orient":"left","anchor":"end","angle":0,"align":"left","baseline":"top","fontSize":66,"offset":-15,"dy":-4,"frame":"bounds"},
"resolve":{"scale":{"color":"independent","fill":"independent","shape":"independent"}},
"vconcat":[{
"width":390,"height":390,
"title":{"text":"APD₃₀ (0.5 Hz) - APD₃₀ (2 Hz) (ms)","anchor":"start","frame":"group","dx":-9,"offset":20.5,"fontSize":33},
"encoding":{
"x":{"field":"x","type":"quantitative","scale":{"domain":[3,6],"reverse":true,"nice":false,"zero":false},"axis":{"orient":"top","values":[3,4,5,6],"format":"d","title":"pIC50-IKr","tickSize":9,"labelPadding":8.5,"titlePadding":6.5,"labelFlush":false}},
"y":{"field":"y","type":"quantitative","scale":{"domain":[3,7],"nice":false,"zero":false},"axis":{"values":[3,4,5,6,7],"format":"d","title":"pIC50-INaL","tickSize":12,"labelPadding":15,"titlePadding":5}}
},
"layer":[
{"data":{"name":"hC"},"mark":{"type":"square","size":702,"opacity":1,"clip":true,"strokeWidth":0},"encoding":{"color":{"field":"v","type":"quantitative","scale":{"domain":[30,40,50,60,80,100],"range":["#0010FF","#2B46CC","#4B7A7C","#30C030","#FFFF00","#FF0000"],"interpolate":"rgb","clamp":true},"legend":{"title":"RD (ms)","orient":"none","legendX":437,"legendY":87.5,"padding":0,"gradientOpacity":0,"gradientStrokeWidth":0,"gradientLength":20,"gradientThickness":2,"labelOpacity":0,"labelExpr":"''","direction":"horizontal","titleFontSize":34}}}},
{"data":{"name":"hC"},"mark":{"type":"square","size":2704,"opacity":0.22,"clip":true,"strokeWidth":0},"encoding":{"color":{"field":"v","type":"quantitative","legend":null}}},
{"data":{"name":"hC"},"mark":{"type":"square","size":2704,"opacity":0.22,"clip":true,"strokeWidth":0},"encoding":{"color":{"field":"v","type":"quantitative","legend":null},"order":[{"field":"y","type":"quantitative","sort":"ascending"},{"field":"x","type":"quantitative","sort":"descending"}]}},
{"data":{"name":"lC"},"transform":[{"filter":"datum.c != '120'"}],"mark":{"type":"line","color":"black","strokeWidth":2,"interpolate":"catmull-rom"},"encoding":{"detail":{"field":"c","type":"nominal"},"order":{"field":"i","type":"quantitative"}}},
{"data":{"name":"lC"},"transform":[{"filter":"datum.c == '120'"}],"mark":{"type":"line","color":"black","strokeWidth":3.5,"strokeDash":[16,9],"interpolate":"catmull-rom"},"encoding":{"order":{"field":"i","type":"quantitative"}}},
{"data":{"name":"tC"},"mark":{"type":"text","fontSize":28,"color":"black","align":"center","baseline":"middle"},"encoding":{"text":{"field":"t","type":"nominal"}}},
{"data":{"name":"mk"},"mark":{"type":"point","filled":true,"color":"black","size":420,"opacity":1},"encoding":{"shape":{"field":"m","type":"nominal","scale":{"domain":["RAN","GS967"],"range":["circle","triangle-down"]},"legend":null}}},
{"data":{"name":"rd"},"mark":{"type":"square","opacity":0},"encoding":{"fill":{"field":"rd","type":"nominal","scale":{"domain":["0","20","40","60","80",">100"],"range":["#5E3F80","#3E3E8E","#2D4FC8","#66CC22","#FFC000","#FF3C00"]},"legend":{"title":null,"orient":"none","legendX":420,"legendY":131,"strokeColor":"black","fillColor":"white","padding":21,"symbolType":"M-2,-1H2V1H-2Z","symbolSize":930,"symbolOffset":15,"symbolOpacity":1,"symbolStrokeWidth":0,"labelFontSize":24,"labelOffset":33,"rowPadding":7,"labelExpr":"datum.label + '\u00a0\u00a0'"}}}}
]
}]
}
]
}
